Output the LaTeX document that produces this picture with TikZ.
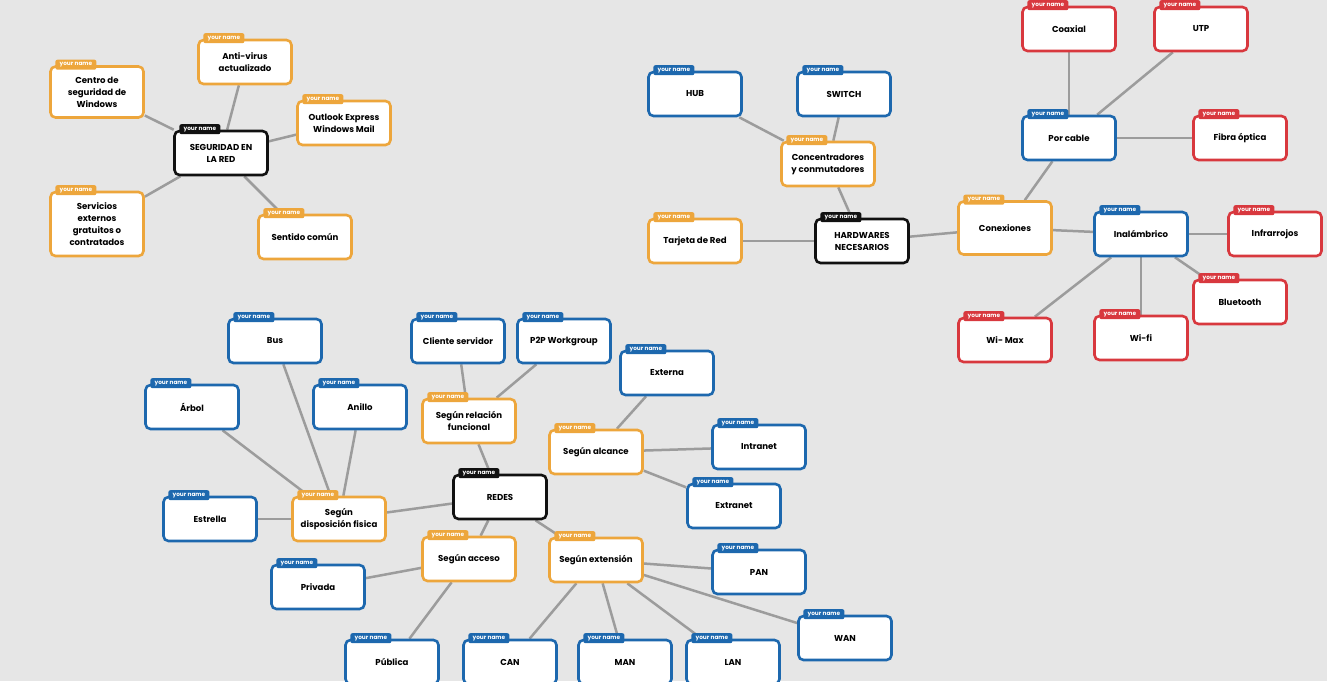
\documentclass[tikz,border=0pt]{standalone}
\usepackage{fontspec}
\setmainfont{Poppins}
\usepackage{tikz}
\usetikzlibrary{positioning,backgrounds}
\definecolor{orng}{HTML}{EDA63C}
\definecolor{blu}{HTML}{1D68AE}
\definecolor{rd}{HTML}{D8383E}
\definecolor{blk}{HTML}{111111}
\definecolor{bgray}{HTML}{E6E6E6}
\definecolor{wire}{HTML}{9C9C9C}
\tikzset{
  tag/.style={fill=#1, text=white, rounded corners=2pt, anchor=west, xshift=6pt, yshift=0.5pt,
    inner xsep=3pt, inner ysep=0pt, minimum width=41pt, minimum height=10pt,
    font=\bfseries\fontsize{5.8}{5.8}\selectfont},
  box/.style={draw=#1, line width=2.6pt, fill=white, rounded corners=5pt,
    minimum width=93pt, minimum height=44pt, align=center, inner sep=3pt,
    font=\bfseries\fontsize{8.6}{12}\selectfont,
    label={[tag=#1]north west:your name}},
  link/.style={draw=wire, line width=2.5pt},
}
\begin{document}
\begin{tikzpicture}[x=1pt,y=-1pt]
  \useasboundingbox (0,0) rectangle (1327,681);
  \begin{scope}[on background layer]
    \fill[bgray] (0,0) rectangle (1327,681);
  \end{scope}

  % seguridad
  \node[box=blk] (sec) at (221,153) {SEGURIDAD EN\\LA RED};
  \node[box=orng, minimum height=51pt] (centro) at (97,92) {Centro de\\seguridad de\\Windows};
  \node[box=orng] (antivirus) at (245,62) {Anti-virus\\actualizado};
  \node[box=orng] (outlook) at (344,123) {Outlook Express\\Windows Mail};
  \node[box=orng, minimum height=64pt] (servicios) at (97,224) {Servicios\\externos\\gratuitos o\\contratados};
  \node[box=orng] (sentido) at (305,237) {Sentido común};

  % hardware
  \node[box=blk] (hw) at (862,241) {HARDWARES\\NECESARIOS};
  \node[box=blu] (hub) at (695,94) {HUB};
  \node[box=blu] (switch) at (844,94) {SWITCH};
  \node[box=orng] (concent) at (828,164) {Concentradores\\y conmutadores};
  \node[box=orng] (tarjeta) at (695,241) {Tarjeta de Red};

  % conexiones
  \node[box=orng, minimum height=53pt] (conex) at (1005,228) {Conexiones};
  \node[box=blu] (porcable) at (1069,138) {Por cable};
  \node[box=rd] (coaxial) at (1069,29) {Coaxial};
  \node[box=rd] (utp) at (1201,29) {UTP};
  \node[box=rd] (fibra) at (1240,138) {Fibra óptica};
  \node[box=blu] (inalam) at (1141,234) {Inalámbrico};
  \node[box=rd] (infra) at (1275,234) {Infrarrojos};
  \node[box=rd] (bluetooth) at (1240,302) {Bluetooth};
  \node[box=rd] (wimax) at (1005,340) {Wi- Max};
  \node[box=rd] (wifi) at (1141,338) {Wi-fi};

  % redes
  \node[box=blk] (redes) at (500,497) {REDES};
  \node[box=orng] (disp) at (339,519) {Según\\disposición fisica};
  \node[box=blu] (bus) at (275,341) {Bus};
  \node[box=blu] (arbol) at (192,407) {Árbol};
  \node[box=blu] (anillo) at (360,407) {Anillo};
  \node[box=blu] (estrella) at (210,519) {Estrella};
  \node[box=orng] (relacion) at (469,421) {Según relación\\funcional};
  \node[box=blu] (cliente) at (458,341) {Cliente servidor};
  \node[box=blu] (ptp) at (564,341) {P2P Workgroup};
  \node[box=orng] (alcance) at (596,452) {Según alcance};
  \node[box=blu] (externa) at (667,373) {Externa};
  \node[box=blu] (intranet) at (759,447) {Intranet};
  \node[box=blu] (extranet) at (734,506) {Extranet};
  \node[box=orng] (acceso) at (469,559) {Según acceso};
  \node[box=blu] (privada) at (318,587) {Privada};
  \node[box=blu] (publica) at (392,662) {Pública};
  \node[box=orng] (extension) at (596,560) {Según extensión};
  \node[box=blu] (pan) at (759,572) {PAN};
  \node[box=blu] (wan) at (845,638) {WAN};
  \node[box=blu] (can) at (510,662) {CAN};
  \node[box=blu] (man) at (625,662) {MAN};
  \node[box=blu] (lan) at (733,662) {LAN};

  \begin{scope}[on background layer]
    \foreach \a/\b in {sec/centro, sec/antivirus, sec/outlook, sec/servicios, sec/sentido,
        hw/concent, hw/tarjeta, hw/conex, concent/hub, concent/switch,
        conex/porcable, conex/inalam, porcable/coaxial, porcable/utp, porcable/fibra,
        inalam/infra, inalam/bluetooth, inalam/wimax, inalam/wifi,
        redes/disp, redes/relacion, redes/acceso, redes/extension,
        disp/bus, disp/arbol, disp/anillo, disp/estrella,
        relacion/cliente, relacion/ptp,
        alcance/externa, alcance/intranet, alcance/extranet,
        acceso/privada, acceso/publica,
        extension/pan, extension/wan, extension/can, extension/man, extension/lan}
      \draw[link] (\a) -- (\b);
  \end{scope}
\end{tikzpicture}
\end{document}
